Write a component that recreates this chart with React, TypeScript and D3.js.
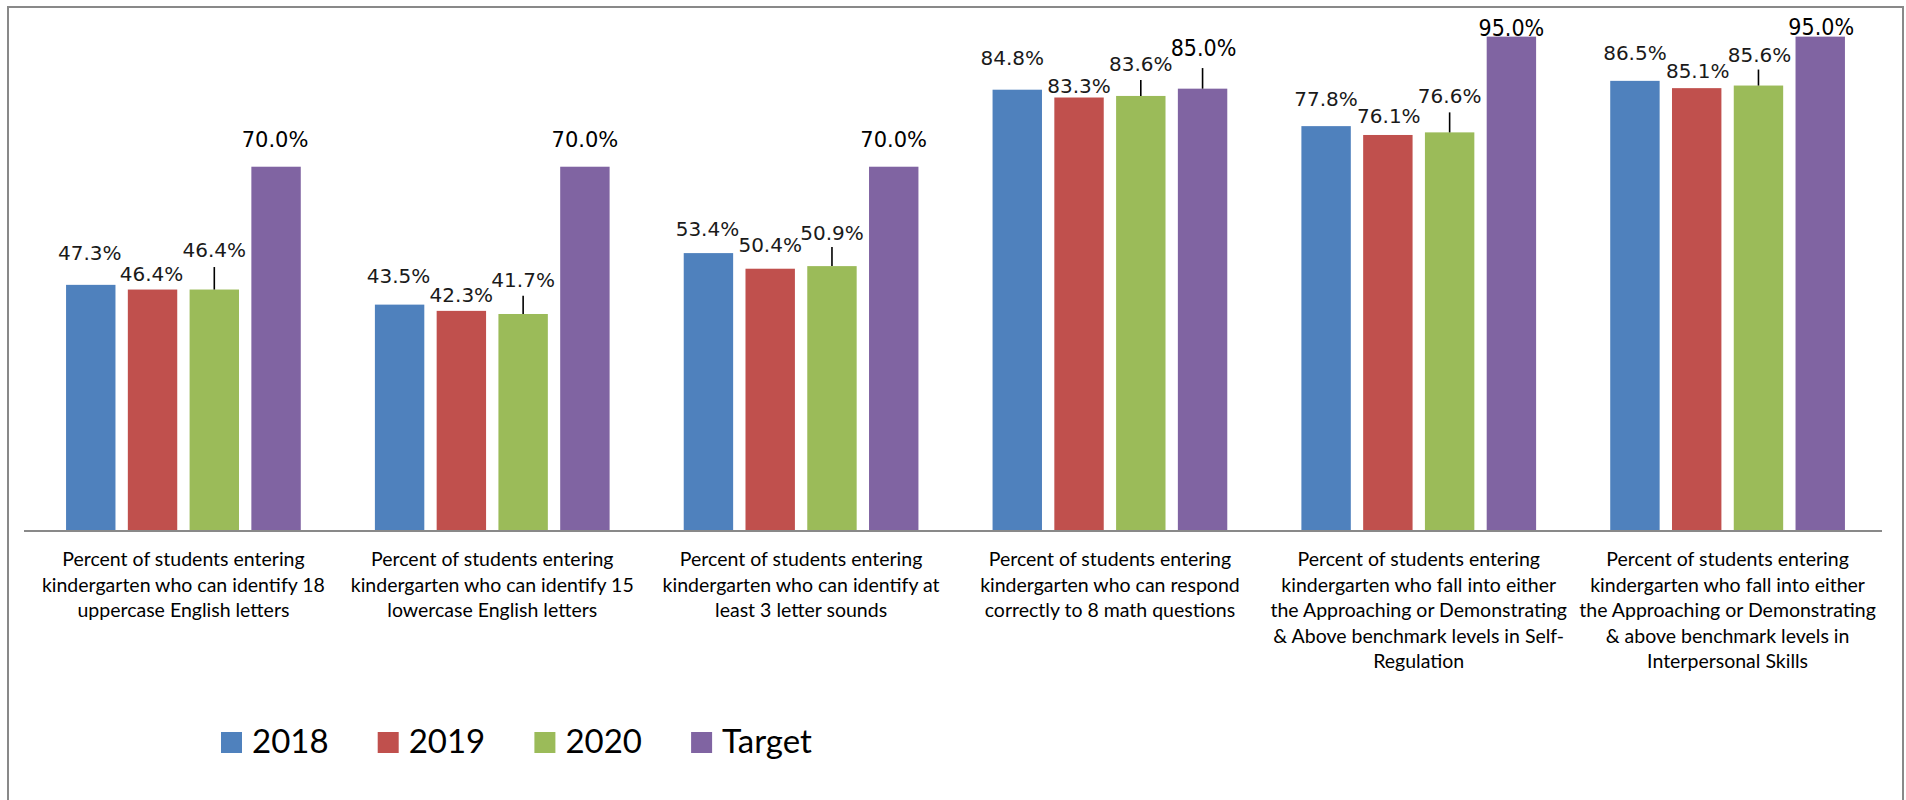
import React, { useEffect } from "react";
import * as d3 from "d3";

const categoryLines: string[][] = [
  ["Percent of students entering", "kindergarten who can identify 18", "uppercase English letters"],
  ["Percent of students entering", "kindergarten who can identify 15", "lowercase English letters"],
  ["Percent of students entering", "kindergarten who can identify at", "least 3 letter sounds"],
  ["Percent of students entering", "kindergarten who can respond", "correctly to 8 math questions"],
  ["Percent of students entering", "kindergarten who fall into either", "the Approaching or Demonstrating", "& Above benchmark levels in Self-", "Regulation"],
  ["Percent of students entering", "kindergarten who fall into either", "the Approaching or Demonstrating", "& above benchmark levels in", "Interpersonal Skills"],
];
const categories = categoryLines.map((l) => l.join(" "));
const seriesNames = ["2018", "2019", "2020", "Target"];
const values2018 = [47.3, 43.5, 53.4, 84.8, 77.8, 86.5];
const values2019 = [46.4, 42.3, 50.4, 83.3, 76.1, 85.1];
const values2020 = [46.4, 41.7, 50.9, 83.6, 76.6, 85.6];
const valuesTarget = [70.0, 70.0, 70.0, 85.0, 95.0, 95.0];
const seriesValues = [values2018, values2019, values2020, valuesTarget];
const colors = ["#4F81BD", "#C0504D", "#9BBB59", "#8064A2"];

// label placement (offset of label baseline from bar top, leader line length)
const labelDy = [
  [-24.8, -21.6, -17, -24.7, -20, -21],
  [-8.8, -9.2, -17, -4.2, -12.3, -9.8],
  [-32.5, -27.3, -26, -25, -29, -23.8],
  [-20, -20, -20, -32.7, -0.6, -1.6],
];
const labelDx = [
  [-1, -1, -1, -5, 0, 0],
  [-1, 0, 0, 0, 1, 1],
  [0, 0, 0, 0, 0, 1],
  [-1, 0, 0, 1, 0, 1],
];
const leaderLen = [
  [0, 0, 0, 0, 0, 0],
  [0, 0, 0, 0, 0, 0],
  [22.5, 18.3, 19, 16, 20, 16],
  [0, 0, 0, 20.6, 0, 0],
];

const W = 1906;
const H = 800;
const plotLeft = 29;
const plotRight = 1882;
const baseY = 531;
const topY = 10.6;

export default function App() {
  useEffect(() => {
    document.body.style.margin = "0";
  }, []);

  const x0 = d3.scaleBand<string>().domain(categories).range([plotLeft, plotRight]).paddingInner(0).paddingOuter(0);
  const x1 = d3
    .scaleBand<string>()
    .domain(seriesNames)
    .range([0, x0.bandwidth()])
    .paddingInner(0.2)
    .paddingOuter(0.6);
  const y = d3.scaleLinear().domain([0, 100]).range([baseY, topY]);
  const fmt = d3.format(".1f");

  const legendStep = 156.7;

  return (
    <svg width={W} height={H} style={{ display: "block", background: "#fff" }}>
      <rect x={8} y={7} width={1895} height={900} fill="#fff" stroke="#898989" strokeWidth={2} />
      {seriesNames.map((s, si) => (
        <g key={s}>
          {categories.map((c, ci) => {
            const v = seriesValues[si][ci];
            const bx = (x0(c) as number) + (x1(s) as number);
            return (
              <rect key={c} x={bx} y={y(v)} width={x1.bandwidth()} height={baseY - y(v)} fill={colors[si]} />
            );
          })}
        </g>
      ))}
      <line x1={plotLeft - 5} x2={plotRight} y1={baseY} y2={baseY} stroke="#898989" strokeWidth={2} />
      {seriesNames.map((s, si) => (
        <g key={"l" + s}>
          {categories.map((c, ci) => {
            const v = seriesValues[si][ci];
            const cx = (x0(c) as number) + (x1(s) as number) + x1.bandwidth() / 2;
            const top = y(v);
            const big = si === 3 && ci >= 3;
            const ll = leaderLen[si][ci];
            return (
              <g key={c}>
                {ll > 0 && <line x1={cx} x2={cx} y1={top - ll} y2={top} stroke="#000" strokeWidth={1.6} />}
                <text
                  x={cx + labelDx[si][ci]}
                  y={top + labelDy[si][ci]}
                  textAnchor="middle"
                  fontFamily={big ? "DejaVu Sans Condensed, DejaVu Sans" : "DejaVu Sans"}
                  fontSize={big ? 23 : si === 3 ? 21 : 20}
                  fill={si === 3 ? "#000" : "#1a1a1a"}
                >
                  {fmt(v) + "%"}
                </text>
              </g>
            );
          })}
        </g>
      ))}
      {categoryLines.map((lines, ci) => {
        const cx = (x0(categories[ci]) as number) + x0.bandwidth() / 2;
        return (
          <text key={ci} textAnchor="middle" fontFamily="Lato" fontSize={19.5} fill="#000">
            {lines.map((ln, li) => (
              <tspan key={li} x={cx} y={566 + li * 25.5}>
                {ln}
              </tspan>
            ))}
          </text>
        );
      })}
      {seriesNames.map((s, si) => (
        <g key={"lg" + s} transform={`translate(${221 + si * legendStep},0)`}>
          <rect x={0} y={732} width={21} height={21} fill={colors[si]} />
          <text x={31} y={753} fontFamily="Lato" fontSize={33} fill="#000">
            {s}
          </text>
        </g>
      ))}
    </svg>
  );
}
